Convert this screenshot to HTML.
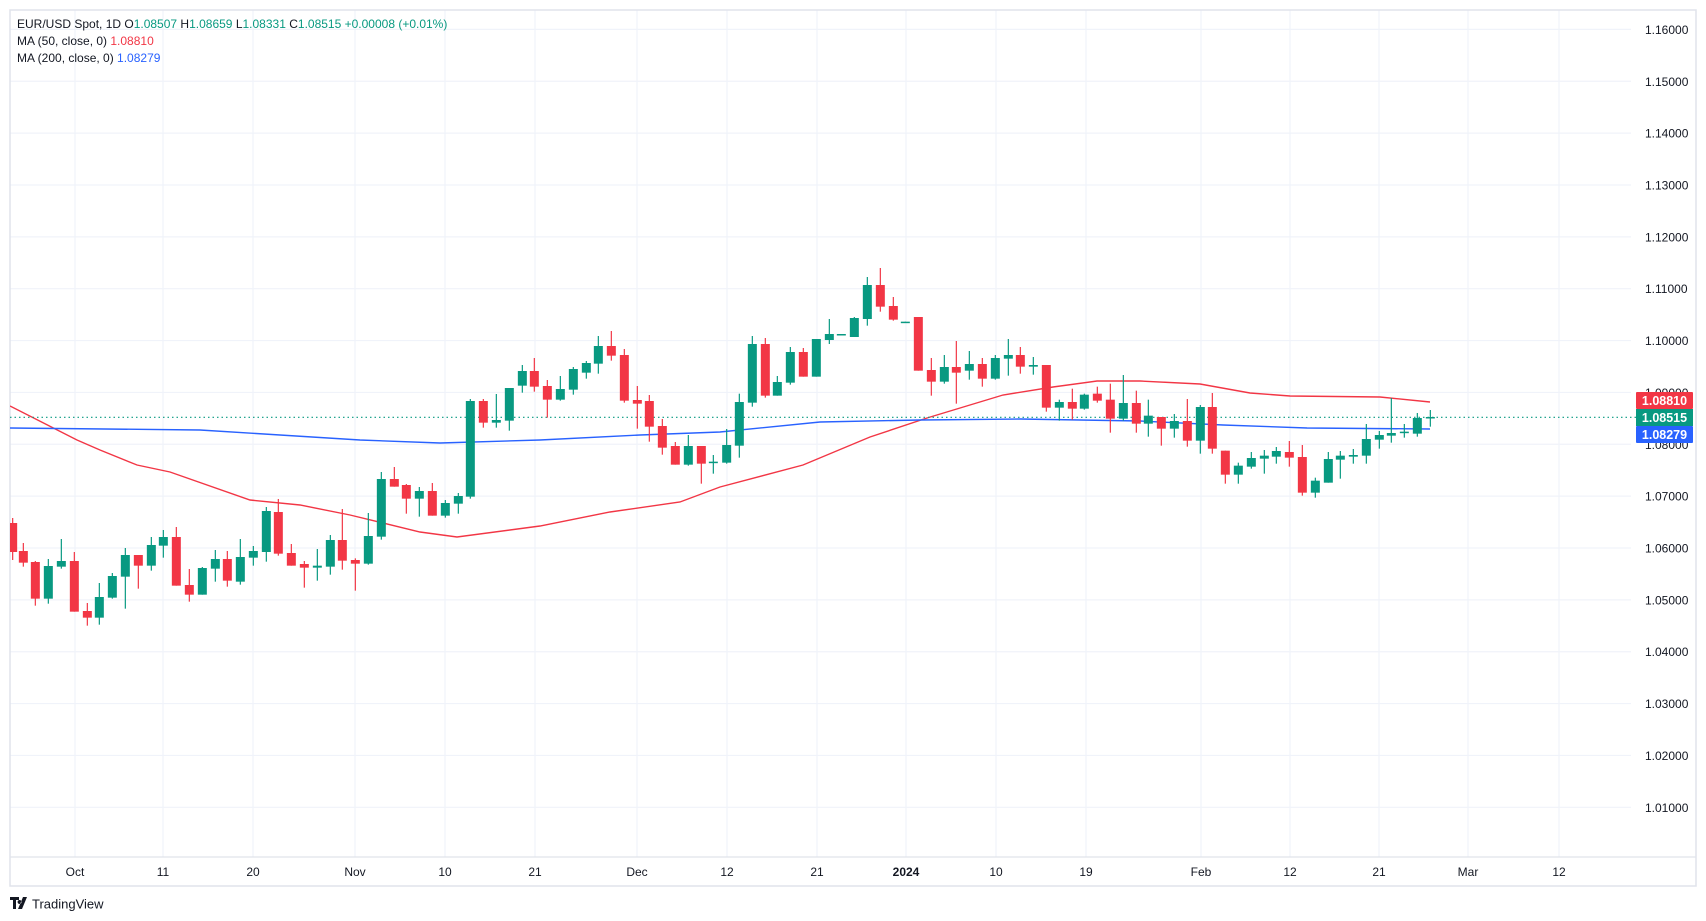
<!DOCTYPE html>
<html><head><meta charset="utf-8"><style>
html,body{margin:0;padding:0;background:#fff;}
svg{display:block;font-family:"Liberation Sans",sans-serif;}
</style></head><body>
<svg id="s" width="1706" height="921" viewBox="0 0 1706 921" xmlns="http://www.w3.org/2000/svg">
<defs><clipPath id="pc"><rect x="10" y="10" width="1621" height="847"/></clipPath></defs>
<rect x="0" y="0" width="1706" height="921" fill="#fff"/>
<g id="grid"></g>
<rect x="10" y="10" width="1686" height="876" fill="none" stroke="#e0e3eb" stroke-width="1.5"/>
<line x1="10" y1="857" x2="1696" y2="857" stroke="#e0e3eb" stroke-width="1.2"/>
<g id="ma" clip-path="url(#pc)"></g>
<line x1="10" y1="417.3" x2="1636" y2="417.3" stroke="#089981" stroke-width="1.2" stroke-dasharray="1.5,3"/>
<g id="candles" clip-path="url(#pc)"></g>
<g id="labels" font-size="12" fill="#131722"></g>
<g font-size="12">
<text x="17" y="28"><tspan fill="#131722">EUR/USD Spot, 1D  O</tspan><tspan fill="#089981">1.08507</tspan><tspan fill="#131722">  H</tspan><tspan fill="#089981">1.08659</tspan><tspan fill="#131722">  L</tspan><tspan fill="#089981">1.08331</tspan><tspan fill="#131722">  C</tspan><tspan fill="#089981">1.08515  +0.00008 (+0.01%)</tspan></text>
<text x="17" y="45" fill="#131722">MA (50, close, 0)  <tspan fill="#f23645">1.08810</tspan></text>
<text x="17" y="62" fill="#131722">MA (200, close, 0)  <tspan fill="#2962ff">1.08279</tspan></text>
</g>
<rect x="1636" y="392" width="57" height="17" fill="#f23645" rx="1"/>
<rect x="1636" y="409" width="57" height="17" fill="#089981"/>
<rect x="1636" y="426" width="57" height="17" fill="#2962ff" rx="1"/>
<g font-size="12.5" font-weight="bold" fill="#fff" text-anchor="middle">
<text x="1664.5" y="405">1.08810</text>
<text x="1664.5" y="422">1.08515</text>
<text x="1664.5" y="439">1.08279</text>
</g>
<g transform="translate(10,897)">
<path d="M0 0h9v3h-3v9h-3v-9h-3z M8 12l5-12h4l-5 12z M9.5 3a2 2 0 1 0 0.1 0z" fill="#131722"/>
<text x="22" y="11.5" font-size="13" fill="#131722">TradingView</text>
</g>
</svg>
<script>
var NS="http://www.w3.org/2000/svg";
function el(p,t,a){var e=document.createElementNS(NS,t);for(var k in a)e.setAttribute(k,a[k]);p.appendChild(e);return e;}
var grid=document.getElementById('grid'),labels=document.getElementById('labels');
var prices=["1.16000","1.15000","1.14000","1.13000","1.12000","1.11000","1.10000","1.09000","1.08000","1.07000","1.06000","1.05000","1.04000","1.03000","1.02000","1.01000"];
for(var k=0;k<16;k++){var y=29.4+k*51.86;
 el(grid,'line',{x1:10,y1:y,x2:1631,y2:y,stroke:'#f0f3fa','stroke-width':1.2});
 var t=el(labels,'text',{x:1645,y:y+4.5});t.textContent=prices[k];}
var dates=[[75,"Oct"],[163,"11"],[253,"20"],[355,"Nov"],[445,"10"],[535,"21"],[637,"Dec"],[727,"12"],[817,"21"],[906,"2024"],[996,"10"],[1086,"19"],[1201,"Feb"],[1290,"12"],[1379,"21"],[1468,"Mar"],[1559,"12"]];
dates.forEach(function(d){el(grid,'line',{x1:d[0],y1:10,x2:d[0],y2:857,stroke:'#f0f3fa','stroke-width':1.2});
 var t=el(labels,'text',{x:d[0],y:876,'text-anchor':'middle'});if(d[1]=="2024")t.setAttribute('font-weight','bold');t.textContent=d[1];});
var ma=document.getElementById('ma');
var red=[[10,406],[77,440],[100,450],[137,465],[170,472],[250,500],[300,505],[350,515],[420,532],[457,537],[540,526],[610,512],[680,502],[720,487],[803,465],[870,437],[927,418],[1003,395],[1053,387],[1097,381],[1140,381],[1200,384],[1250,393],[1290,396],[1380,397],[1430,402]];
var blue=[[10,428],[200,430],[360,440],[440,443],[540,440],[640,435],[720,432],[820,422],[920,420],[1020,419],[1140,421],[1223,425],[1307,428],[1430,429]];
function pl(a,c){el(ma,'polyline',{points:a.map(function(p){return p.join(',')}).join(' '),fill:'none',stroke:c,'stroke-width':1.4});}
pl(red,'#f23645');pl(blue,'#2962ff');
var Z=[
[0,440,[[38,234,249,336,360,'r'],[70,309,333,368,380,'r'],[106,363,366,476,497,'r'],[145,357,378,476,491,'g'],[184,297,363,380,386,'g'],[223,336,363,515,515,'r'],[262,489,513,533,557,'r'],[298,429,471,533,554,'g'],[337,399,408,473,476,'g'],[376,324,345,410,506,'g'],[415,345,345,377,446,'r'],[454,291,315,377,392,'g'],[490,270,291,317,353,'g'],[529,261,291,437,437,'r'],[568,387,435,464,485,'r'],[607,381,384,464,464,'g'],[646,330,357,386,425,'g'],[682,333,357,422,440,'r'],[721,297,351,425,434,'g'],[760,318,333,353,377,'g'],[799,201,213,336,365,'g'],[835,177,216,341,347,'r'],[874,312,339,377,377,'r'],[913,363,372,383,443,'r'],[952,327,377,383,422,'g'],[991,285,300,380,404,'g'],[1027,207,300,362,389,'r'],[1066,355,360,371,452,'r'],[1105,219,288,371,374,'g'],[1144,96,117,290,299,'g'],[1183,81,117,140,140,'r'],[1219,132,135,176,221,'r'],[1258,141,153,176,230,'g'],[1297,129,153,227,227,'r'],[1336,180,189,227,233,'g'],[1375,159,168,191,221,'g']]],
[340,320,[[391,237,243,530,536,'g'],[430,237,243,308,323,'r'],[469,222,300,308,323,'g'],[508,204,204,302,332,'g'],[547,135,153,197,218,'g'],[583,114,153,200,215,'r'],[622,180,198,239,293,'r'],[661,168,207,239,242,'g'],[700,141,147,209,224,'g'],[739,123,129,158,176,'g'],[775,48,78,131,161,'g'],[814,33,78,107,122,'r'],[853,87,105,242,248,'r'],[892,198,240,251,326,'r'],[928,225,243,320,365,'r'],[967,297,318,383,404,'r'],[1006,366,378,434,434,'r'],[1045,345,378,434,437,'g'],[1084,378,378,431,491,'r'],[1120,405,425,428,461,'g']]],
[720,250,[[20,537,585,638,641,'g'],[58,431,456,587,623,'g'],[97,258,282,458,470,'g'],[136,264,282,437,443,'r'],[172,378,396,437,437,'g'],[211,291,306,398,404,'g'],[250,294,306,380,380,'r'],[289,267,267,380,380,'g'],[328,207,252,270,282,'g'],[364,252,252,255,255,'g'],[403,201,204,261,261,'g'],[442,81,105,207,227,'g'],[481,54,105,170,185,'r'],[520,141,168,209,212,'r'],[556,215,215,218,218,'g'],[595,201,201,362,362,'r'],[634,324,360,395,437,'r'],[673,315,351,395,401,'g'],[709,273,351,368,461,'r'],[748,303,342,362,389,'g'],[787,324,342,386,410,'r'],[826,315,324,386,389,'g'],[865,267,315,326,377,'g'],[901,291,315,350,371,'r'],[940,321,345,350,374,'g'],[979,345,345,473,485,'r'],[1018,449,456,473,512,'g'],[1057,416,456,476,509,'r'],[1093,431,434,476,479,'g'],[1132,410,431,452,458,'r'],[1171,401,449,506,548,'r'],[1210,375,459,506,512,'g'],[1249,422,459,521,548,'r'],[1285,449,497,521,560,'g']]],
[1140,340,[[64,231,231,266,317,'r'],[103,222,243,266,293,'g'],[142,177,243,302,320,'r'],[181,195,201,302,341,'g'],[217,159,201,326,341,'r'],[256,332,332,404,431,'r'],[295,368,377,404,431,'g'],[334,336,354,380,386,'g'],[373,330,347,356,401,'g'],[409,321,333,350,371,'g'],[448,303,336,353,380,'r'],[487,315,351,458,467,'r'],[526,413,422,458,473,'g'],[565,336,357,428,428,'g'],[601,333,347,359,416,'g'],[640,327,345,350,371,'g'],[679,252,297,347,371,'g'],[718,273,285,299,326,'g'],[754,174,279,287,308,'g'],[793,252,275,278,293,'g'],[832,219,234,281,290,'g'],[871,210,231,233,260,'g']]]
];
var cg=document.getElementById('candles');
Z.forEach(function(z){var x0=z[0],y0=z[1];z[2].forEach(function(c){
 var x=x0+c[0]/3,wt=y0+c[1]/3,bt=y0+c[2]/3,bb=y0+c[3]/3,wb=y0+c[4]/3,col=c[5]=='r'?'#f23645':'#089981';
 el(cg,'line',{x1:x,y1:wt,x2:x,y2:wb,stroke:col,'stroke-width':1.2});
 var h=Math.max(bb-bt,1.5);
 el(cg,'rect',{x:x-4.5,y:bt,width:9,height:h,fill:col});
});});
</script>
</body></html>
